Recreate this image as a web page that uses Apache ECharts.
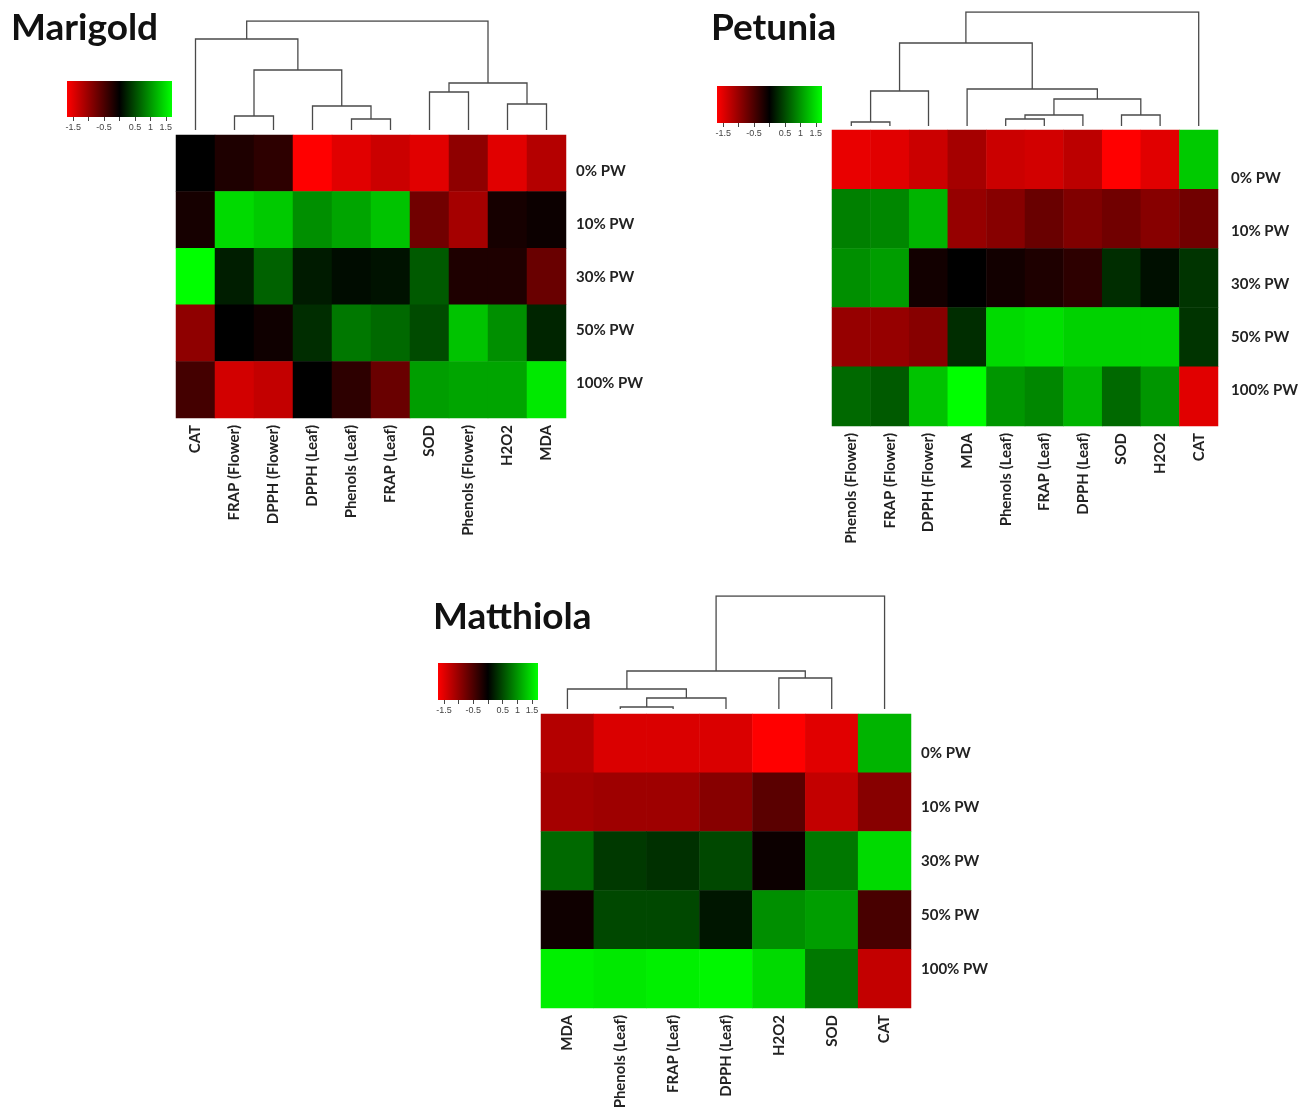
<!DOCTYPE html>
<html>
<head>
<meta charset="utf-8">
<script src="https://cdn.jsdelivr.net/npm/echarts@6/dist/echarts.min.js"></script>
<style>
  html, body { margin: 0; background: #fff; }
  #main { width: 1306px; height: 1113px; }
</style>
</head>
<body>
<div id="main"></div>
<script>
// row labels (same for all three panels)
var rowLabels = ['0% PW', '10% PW', '30% PW', '50% PW', '100% PW'];

// Marigold
var marigoldCols = ['CAT', 'FRAP (Flower)', 'DPPH (Flower)', 'DPPH (Leaf)', 'Phenols (Leaf)', 'FRAP (Leaf)', 'SOD', 'Phenols (Flower)', 'H2O2', 'MDA'];
var marigoldValues = [
  [0.0, -0.2, -0.3, -1.7, -1.5, -1.35, -1.5, -0.95, -1.5, -1.2],
  [-0.15, 1.45, 1.35, 0.95, 1.1, 1.3, -0.75, -1.1, -0.15, -0.08],
  [1.7, 0.2, 0.65, 0.18, 0.08, 0.12, 0.6, -0.2, -0.2, -0.7],
  [-0.95, 0.0, -0.1, 0.3, 0.8, 0.7, 0.5, 1.3, 0.95, 0.25],
  [-0.45, -1.4, -1.3, 0.0, -0.3, -0.7, 1.05, 1.1, 1.1, 1.55]
];
// merges: negative = leaf (1-based), positive = earlier merge, then height
var marigoldMerges = [
  [-2, -3, 14], [-5, -6, 11], [-4, 2, 24], [1, 3, 60], [-1, 4, 91],
  [-7, -8, 38], [-9, -10, 26], [6, 7, 47], [5, 8, 109]
];

// Petunia
var petuniaCols = ['Phenols (Flower)', 'FRAP (Flower)', 'DPPH (Flower)', 'MDA', 'Phenols (Leaf)', 'FRAP (Leaf)', 'DPPH (Leaf)', 'SOD', 'H2O2', 'CAT'];
var petuniaValues = [
  [-1.55, -1.5, -1.35, -1.1, -1.35, -1.4, -1.25, -1.7, -1.5, 1.35],
  [0.85, 0.9, 1.2, -1.0, -0.9, -0.7, -0.85, -0.75, -0.9, -0.75],
  [0.95, 1.05, -0.12, 0.0, -0.12, -0.2, -0.3, 0.3, 0.1, 0.35],
  [-1.0, -1.0, -0.9, 0.3, 1.45, 1.5, 1.4, 1.4, 1.4, 0.35],
  [0.7, 0.6, 1.3, 1.7, 1.0, 0.9, 1.2, 0.7, 1.0, -1.5]
];
var petuniaMerges = [
  [-1, -2, 4], [1, -3, 35], [-5, -6, 7], [3, -7, 11], [-8, -9, 11],
  [4, 5, 27], [-4, 6, 37], [2, 7, 83], [8, -10, 114]
];

// Matthiola
var matthiolaCols = ['MDA', 'Phenols (Leaf)', 'FRAP (Leaf)', 'DPPH (Leaf)', 'H2O2', 'SOD', 'CAT'];
var matthiolaValues = [
  [-1.2, -1.45, -1.45, -1.45, -1.7, -1.5, 1.2],
  [-1.1, -1.05, -1.05, -0.9, -0.6, -1.3, -0.9],
  [0.7, 0.38, 0.32, 0.48, -0.08, 0.8, 1.45],
  [-0.1, 0.48, 0.48, 0.15, 0.95, 1.05, -0.48],
  [1.6, 1.55, 1.6, 1.65, 1.45, 0.8, -1.3]
];
var matthiolaMerges = [
  [-2, -3, 2], [1, -4, 11], [-1, 2, 20], [-5, -6, 31], [3, 4, 38], [5, -7, 113]
];

// colour key
var keyTicks = [-1.5, -1, -0.5, 0, 0.5, 1, 1.5];
var keyLabels = [-1.5, -0.5, 0.5, 1, 1.5];
var zMin = -1.7, zMax = 1.7;

var panels = [
  { name: 'Marigold', cols: marigoldCols, values: marigoldValues, merges: marigoldMerges,
    title: [6, 5], heat: [176, 135, 390, 283], dendro: [21, 109], key: [67, 81, 105, 36],
    rowLab: [571, 145, 265] },
  { name: 'Petunia', cols: petuniaCols, values: petuniaValues, merges: petuniaMerges,
    title: [706, 5], heat: [832, 130, 386, 296], dendro: [12, 114], key: [717, 86, 105, 37],
    rowLab: [1226, 152, 265] },
  { name: 'Matthiola', cols: matthiolaCols, values: matthiolaValues, merges: matthiolaMerges,
    title: [428, 594], heat: [541, 714, 370, 294], dendro: [596, 113], key: [438, 663, 100, 37],
    rowLab: [916, 726, 270] }
];

// dendrogram -> polyline segments (node x = midpoint of its two children)
function dendroLines(merges) {
  var pos = [], ht = [], out = [];
  function get(id) { return id < 0 ? [-id - 1, 0] : [pos[id - 1], ht[id - 1]]; }
  merges.forEach(function (m) {
    var a = get(m[0]), b = get(m[1]);
    pos.push((a[0] + b[0]) / 2);
    ht.push(m[2]);
    out.push({ coords: [[a[0], a[1]], [a[0], m[2]], [b[0], m[2]], [b[0], b[1]]] });
  });
  return out;
}

var labelFont = 'Lato, "Open Sans", sans-serif';
var grids = [], xAxes = [], yAxes = [], series = [], titles = [], heatIdx = [];

panels.forEach(function (p) {
  var n = p.cols.length;
  titles.push({
    text: p.name, left: p.title[0], top: p.title[1],
    textStyle: { fontFamily: labelFont, fontSize: 37, fontWeight: 'bold', color: '#111' }
  });

  // heatmap
  var g = grids.length;
  grids.push({ left: p.heat[0], top: p.heat[1], width: p.heat[2], height: p.heat[3] });
  xAxes.push({
    type: 'category', gridIndex: g, data: p.cols, position: 'bottom',
    axisLine: { show: false }, axisTick: { show: false }, splitArea: { show: false },
    axisLabel: { rotate: 90, interval: 0, margin: 7, fontFamily: labelFont, fontSize: 15, fontWeight: 'bold', color: '#222' }
  });
  yAxes.push({
    type: 'category', gridIndex: g, data: rowLabels, inverse: true, show: false
  });
  var data = [];
  p.values.forEach(function (row, r) {
    row.forEach(function (v, c) { data.push([c, r, v]); });
  });
  heatIdx.push(series.length);
  series.push({
    type: 'heatmap', xAxisIndex: g, yAxisIndex: g, data: data,
    itemStyle: { borderWidth: 0 }, emphasis: { disabled: true }
  });

  // dendrogram
  var d = grids.length;
  var rootH = p.merges[p.merges.length - 1][2];
  grids.push({ left: p.heat[0], top: p.dendro[0], width: p.heat[2], height: p.dendro[1] });
  xAxes.push({ type: 'value', gridIndex: d, min: -0.5, max: n - 0.5, show: false });
  yAxes.push({ type: 'value', gridIndex: d, min: 0, max: rootH, show: false });
  series.push({
    type: 'lines', coordinateSystem: 'cartesian2d', xAxisIndex: d, yAxisIndex: d,
    polyline: true, data: dendroLines(p.merges), silent: true,
    lineStyle: { color: '#4a4a4a', width: 1.3, opacity: 1 }
  });

  // colour key
  var k = grids.length;
  grids.push({
    left: p.key[0], top: p.key[1], width: p.key[2], height: p.key[3], show: true, borderWidth: 0,
    backgroundColor: { type: 'linear', x: 0, y: 0, x2: 1, y2: 0,
      colorStops: [{ offset: 0, color: '#ff0000' }, { offset: 0.5, color: '#000000' }, { offset: 1, color: '#00ff00' }] }
  });
  xAxes.push({
    type: 'value', gridIndex: k, min: zMin, max: zMax, position: 'bottom',
    axisLine: { show: false }, splitLine: { show: false },
    axisTick: { show: true, length: 4, customValues: keyTicks, lineStyle: { color: '#444' } },
    axisLabel: { customValues: keyLabels, margin: 6, fontSize: 9, color: '#444', fontFamily: 'Liberation Sans, Arial, sans-serif' }
  });
  yAxes.push({ type: 'value', gridIndex: k, min: 0, max: 1, show: false });

  // row labels
  var l = grids.length;
  grids.push({ left: p.rowLab[0], top: p.rowLab[1], width: 1, height: p.rowLab[2] });
  xAxes.push({ type: 'value', gridIndex: l, show: false });
  yAxes.push({
    type: 'category', gridIndex: l, data: rowLabels, inverse: true, position: 'right',
    axisLine: { show: false }, axisTick: { show: false },
    axisLabel: { margin: 4, fontFamily: labelFont, fontSize: 15, fontWeight: 'bold', color: '#222' }
  });
});

var chart = echarts.init(document.getElementById('main'));
chart.setOption({
  animation: false,
  backgroundColor: '#fff',
  title: titles,
  grid: grids,
  xAxis: xAxes,
  yAxis: yAxes,
  visualMap: {
    show: false, type: 'continuous', min: zMin, max: zMax, seriesIndex: heatIdx,
    inRange: { color: ['#ff0000', '#000000', '#00ff00'] }
  },
  series: series
});
</script>
</body>
</html>
